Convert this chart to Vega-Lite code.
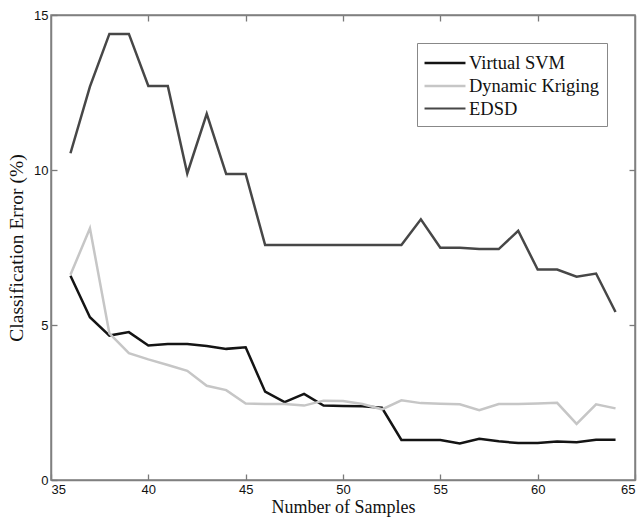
{
  "$schema": "https://vega.github.io/schema/vega-lite/v6.json",
  "autosize": {"type": "none"},
  "width": 584,
  "height": 465,
  "padding": {"left": 51, "top": 15, "right": 9, "bottom": 40},
  "background": "white",
  "config": {
    "view": {"stroke": "#808080", "strokeWidth": 1.5},
    "axis": {
      "grid": false,
      "domainColor": "#808080",
      "domainWidth": 1.5,
      "ticks": true,
      "tickColor": "#7a7a7a",
      "tickWidth": 1.3,
      "tickSize": -6,
      "labelPadding": 9,
      "labelFont": "Liberation Sans",
      "labelFontSize": 13,
      "labelColor": "#111111",
      "titleFont": "Liberation Serif",
      "titleFontSize": 18,
      "titleFontWeight": "normal",
      "titleColor": "#111111"
    },
    "legend": {
      "orient": "none",
      "legendX": 366,
      "legendY": 28,
      "direction": "vertical",
      "strokeColor": "#888888",
      "fillColor": "white",
      "padding": 8,
      "symbolType": "M-1.95,0H1.95",
      "symbolSize": 441,
      "symbolOffset": 8,
      "symbolStrokeWidth": 2.5,
      "labelOffset": 12,
      "labelFont": "Liberation Serif",
      "labelFontSize": 18.5,
      "labelColor": "#111111",
      "rowPadding": 1
    }
  },
  "data": {
    "values": [
      {"samples": 36, "error": 6.59, "method": "Virtual SVM"},
      {"samples": 37, "error": 5.25, "method": "Virtual SVM"},
      {"samples": 38, "error": 4.66, "method": "Virtual SVM"},
      {"samples": 39, "error": 4.77, "method": "Virtual SVM"},
      {"samples": 40, "error": 4.34, "method": "Virtual SVM"},
      {"samples": 41, "error": 4.39, "method": "Virtual SVM"},
      {"samples": 42, "error": 4.39, "method": "Virtual SVM"},
      {"samples": 43, "error": 4.32, "method": "Virtual SVM"},
      {"samples": 44, "error": 4.23, "method": "Virtual SVM"},
      {"samples": 45, "error": 4.28, "method": "Virtual SVM"},
      {"samples": 46, "error": 2.85, "method": "Virtual SVM"},
      {"samples": 47, "error": 2.51, "method": "Virtual SVM"},
      {"samples": 48, "error": 2.78, "method": "Virtual SVM"},
      {"samples": 49, "error": 2.40, "method": "Virtual SVM"},
      {"samples": 50, "error": 2.39, "method": "Virtual SVM"},
      {"samples": 51, "error": 2.38, "method": "Virtual SVM"},
      {"samples": 52, "error": 2.33, "method": "Virtual SVM"},
      {"samples": 53, "error": 1.29, "method": "Virtual SVM"},
      {"samples": 54, "error": 1.29, "method": "Virtual SVM"},
      {"samples": 55, "error": 1.29, "method": "Virtual SVM"},
      {"samples": 56, "error": 1.18, "method": "Virtual SVM"},
      {"samples": 57, "error": 1.33, "method": "Virtual SVM"},
      {"samples": 58, "error": 1.25, "method": "Virtual SVM"},
      {"samples": 59, "error": 1.19, "method": "Virtual SVM"},
      {"samples": 60, "error": 1.19, "method": "Virtual SVM"},
      {"samples": 61, "error": 1.24, "method": "Virtual SVM"},
      {"samples": 62, "error": 1.22, "method": "Virtual SVM"},
      {"samples": 63, "error": 1.30, "method": "Virtual SVM"},
      {"samples": 64, "error": 1.30, "method": "Virtual SVM"},
      {"samples": 36, "error": 6.62, "method": "Dynamic Kriging"},
      {"samples": 37, "error": 8.12, "method": "Dynamic Kriging"},
      {"samples": 38, "error": 4.73, "method": "Dynamic Kriging"},
      {"samples": 39, "error": 4.09, "method": "Dynamic Kriging"},
      {"samples": 40, "error": 3.89, "method": "Dynamic Kriging"},
      {"samples": 41, "error": 3.71, "method": "Dynamic Kriging"},
      {"samples": 42, "error": 3.52, "method": "Dynamic Kriging"},
      {"samples": 43, "error": 3.04, "method": "Dynamic Kriging"},
      {"samples": 44, "error": 2.90, "method": "Dynamic Kriging"},
      {"samples": 45, "error": 2.47, "method": "Dynamic Kriging"},
      {"samples": 46, "error": 2.45, "method": "Dynamic Kriging"},
      {"samples": 47, "error": 2.45, "method": "Dynamic Kriging"},
      {"samples": 48, "error": 2.40, "method": "Dynamic Kriging"},
      {"samples": 49, "error": 2.56, "method": "Dynamic Kriging"},
      {"samples": 50, "error": 2.55, "method": "Dynamic Kriging"},
      {"samples": 51, "error": 2.45, "method": "Dynamic Kriging"},
      {"samples": 52, "error": 2.28, "method": "Dynamic Kriging"},
      {"samples": 53, "error": 2.57, "method": "Dynamic Kriging"},
      {"samples": 54, "error": 2.48, "method": "Dynamic Kriging"},
      {"samples": 55, "error": 2.46, "method": "Dynamic Kriging"},
      {"samples": 56, "error": 2.44, "method": "Dynamic Kriging"},
      {"samples": 57, "error": 2.25, "method": "Dynamic Kriging"},
      {"samples": 58, "error": 2.45, "method": "Dynamic Kriging"},
      {"samples": 59, "error": 2.45, "method": "Dynamic Kriging"},
      {"samples": 60, "error": 2.47, "method": "Dynamic Kriging"},
      {"samples": 61, "error": 2.49, "method": "Dynamic Kriging"},
      {"samples": 62, "error": 1.81, "method": "Dynamic Kriging"},
      {"samples": 63, "error": 2.44, "method": "Dynamic Kriging"},
      {"samples": 64, "error": 2.31, "method": "Dynamic Kriging"},
      {"samples": 36, "error": 10.54, "method": "EDSD"},
      {"samples": 37, "error": 12.69, "method": "EDSD"},
      {"samples": 38, "error": 14.39, "method": "EDSD"},
      {"samples": 39, "error": 14.39, "method": "EDSD"},
      {"samples": 40, "error": 12.71, "method": "EDSD"},
      {"samples": 41, "error": 12.71, "method": "EDSD"},
      {"samples": 42, "error": 9.89, "method": "EDSD"},
      {"samples": 43, "error": 11.81, "method": "EDSD"},
      {"samples": 44, "error": 9.87, "method": "EDSD"},
      {"samples": 45, "error": 9.87, "method": "EDSD"},
      {"samples": 46, "error": 7.58, "method": "EDSD"},
      {"samples": 47, "error": 7.58, "method": "EDSD"},
      {"samples": 48, "error": 7.58, "method": "EDSD"},
      {"samples": 49, "error": 7.58, "method": "EDSD"},
      {"samples": 50, "error": 7.58, "method": "EDSD"},
      {"samples": 51, "error": 7.58, "method": "EDSD"},
      {"samples": 52, "error": 7.58, "method": "EDSD"},
      {"samples": 53, "error": 7.58, "method": "EDSD"},
      {"samples": 54, "error": 8.41, "method": "EDSD"},
      {"samples": 55, "error": 7.49, "method": "EDSD"},
      {"samples": 56, "error": 7.49, "method": "EDSD"},
      {"samples": 57, "error": 7.45, "method": "EDSD"},
      {"samples": 58, "error": 7.45, "method": "EDSD"},
      {"samples": 59, "error": 8.04, "method": "EDSD"},
      {"samples": 60, "error": 6.79, "method": "EDSD"},
      {"samples": 61, "error": 6.79, "method": "EDSD"},
      {"samples": 62, "error": 6.56, "method": "EDSD"},
      {"samples": 63, "error": 6.66, "method": "EDSD"},
      {"samples": 64, "error": 5.42, "method": "EDSD"}
    ]
  },
  "layer": [
    {
      "mark": {"type": "line", "strokeWidth": 2.5},
      "encoding": {
        "x": {
          "field": "samples", "type": "quantitative",
          "scale": {"domain": [35, 65], "nice": false, "zero": false},
          "axis": {"orient": "bottom", "values": [35, 40, 45, 50, 55, 60, 65], "title": "Number of Samples", "titlePadding": 2}
        },
        "y": {
          "field": "error", "type": "quantitative",
          "scale": {"domain": [0, 15], "nice": false},
          "axis": {"orient": "left", "values": [0, 5, 10, 15], "title": "Classification Error (%)", "titlePadding": 7, "titleFontSize": 19.5}
        },
        "color": {
          "field": "method", "type": "nominal",
          "scale": {"domain": ["Virtual SVM", "Dynamic Kriging", "EDSD"], "range": ["#141414", "#c6c6c6", "#474747"]},
          "legend": {"title": null}
        },
        "strokeWidth": {
          "field": "method", "type": "nominal",
          "scale": {"domain": ["Virtual SVM", "Dynamic Kriging", "EDSD"], "range": [2.6, 2, 2.4]},
          "legend": null
        },
        "order": {"field": "samples", "type": "quantitative"}
      }
    },
    {
      "mark": {"type": "line", "opacity": 0},
      "encoding": {
        "x": {
          "field": "samples", "type": "quantitative",
          "axis": {"orient": "top", "values": [40, 45, 50, 55, 60], "labels": false, "title": null}
        },
        "y": {
          "field": "error", "type": "quantitative",
          "axis": {"orient": "right", "values": [5, 10], "labels": false, "title": null}
        },
        "detail": {"field": "method", "type": "nominal"}
      }
    }
  ],
  "resolve": {"axis": {"x": "independent", "y": "independent"}}
}
